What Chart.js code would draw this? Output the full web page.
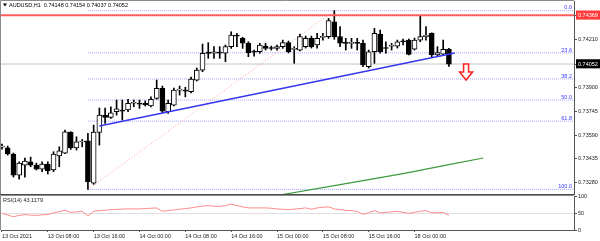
<!DOCTYPE html>
<html>
<head>
<meta charset="utf-8">
<script src="https://cdn.jsdelivr.net/npm/chart.js@4.4.1/dist/chart.umd.min.js"></script>
<style>
  html, body { margin: 0; padding: 0; background: #fff; }
  #wrap { position: relative; width: 600px; height: 241px; overflow: hidden; }
  #priceCanvas { position: absolute; left: 0; top: 0; }
  #rsiCanvas { position: absolute; left: 0; top: 193px; }
</style>
</head>
<body>
<div id="wrap">
  <canvas id="priceCanvas" width="600" height="196"></canvas>
  <canvas id="rsiCanvas" width="600" height="48"></canvas>
</div>
<script>
// Texts
const symbolTitle = 'AUDUSD,H1  0.74148 0.74154 0.74037 0.74052';
const rsiTitle = 'RSI(14) 43.1179';

// Time axis (one candle per hour, label every 8 candles)
const timeLabels = ['13 Oct 2021', '13 Oct 08:00', '13 Oct 16:00', '14 Oct 00:00', '14 Oct 08:00',
    '14 Oct 16:00', '15 Oct 00:00', '15 Oct 08:00', '15 Oct 16:00', '18 Oct 00:00'];
const timeTickIndex = [0, 8, 16, 24, 32, 40, 48, 56, 64, 72];

// Candles H1
const opens = [0.73512, 0.73508, 0.73467, 0.73330, 0.73395, 0.73417, 0.73395, 0.73369, 0.73402, 0.73363,
    0.73454, 0.73473, 0.73610, 0.73506, 0.73545, 0.73553, 0.73278, 0.73608, 0.73720, 0.73705,
    0.73742, 0.73753, 0.73753, 0.73797, 0.73793, 0.73797, 0.73779, 0.73829, 0.73894, 0.73742,
    0.73785, 0.73882, 0.73883, 0.73872, 0.73948, 0.74013, 0.74130, 0.74122, 0.74130, 0.74122,
    0.74165, 0.74241, 0.74219, 0.74187, 0.74133, 0.74132, 0.74169, 0.74156, 0.74154, 0.74165,
    0.74191, 0.74147, 0.74143, 0.74165, 0.74219, 0.74176, 0.74225, 0.74230, 0.74327, 0.74230,
    0.74188, 0.74186, 0.74188, 0.74187, 0.74035, 0.74132, 0.74247, 0.74156, 0.74168, 0.74169,
    0.74199, 0.74208, 0.74148, 0.74208, 0.74230, 0.74252, 0.74111, 0.74117, 0.74148];
const highs = [0.73532, 0.73519, 0.73473, 0.73417, 0.73441, 0.73447, 0.73408, 0.73417, 0.73417, 0.73482,
    0.73514, 0.73623, 0.73612, 0.73579, 0.73562, 0.73601, 0.73655, 0.73766, 0.73766, 0.73774,
    0.73818, 0.73818, 0.73823, 0.73818, 0.73818, 0.73812, 0.73839, 0.73948, 0.73909, 0.73818,
    0.73896, 0.73909, 0.73901, 0.73968, 0.74026, 0.74182, 0.74191, 0.74165, 0.74165, 0.74176,
    0.74262, 0.74252, 0.74226, 0.74197, 0.74143, 0.74187, 0.74187, 0.74169, 0.74176, 0.74208,
    0.74202, 0.74165, 0.74247, 0.74234, 0.74234, 0.74252, 0.74252, 0.74349, 0.74399, 0.74295,
    0.74219, 0.74219, 0.74219, 0.74208, 0.74143, 0.74284, 0.74273, 0.74197, 0.74187, 0.74208,
    0.74215, 0.74215, 0.74221, 0.74368, 0.74295, 0.74255, 0.74165, 0.74208, 0.74154];
const lows = [0.73499, 0.73460, 0.73317, 0.73304, 0.73317, 0.73384, 0.73363, 0.73352, 0.73337, 0.73352,
    0.73384, 0.73470, 0.73497, 0.73493, 0.73514, 0.73237, 0.73270, 0.73525, 0.73666, 0.73699,
    0.73720, 0.73688, 0.73742, 0.73774, 0.73764, 0.73779, 0.73774, 0.73823, 0.73733, 0.73731,
    0.73779, 0.73850, 0.73839, 0.73864, 0.73942, 0.74002, 0.74089, 0.74089, 0.74089, 0.74067,
    0.74154, 0.74165, 0.74154, 0.74100, 0.74104, 0.74122, 0.74143, 0.74143, 0.74143, 0.74154,
    0.74124, 0.74057, 0.74137, 0.74156, 0.74156, 0.74156, 0.74208, 0.74219, 0.74213, 0.74165,
    0.74143, 0.74154, 0.74143, 0.74035, 0.74026, 0.74057, 0.74122, 0.74122, 0.74143, 0.74156,
    0.74176, 0.74111, 0.74143, 0.74197, 0.74208, 0.74100, 0.74100, 0.74111, 0.74037];
const closes = [0.73516, 0.73467, 0.73330, 0.73408, 0.73421, 0.73395, 0.73369, 0.73402, 0.73358, 0.73467,
    0.73488, 0.73612, 0.73506, 0.73547, 0.73548, 0.73287, 0.73610, 0.73720, 0.73705, 0.73735,
    0.73761, 0.73746, 0.73797, 0.73799, 0.73791, 0.73787, 0.73823, 0.73894, 0.73746, 0.73797,
    0.73883, 0.73885, 0.73875, 0.73955, 0.74013, 0.74122, 0.74121, 0.74132, 0.74122, 0.74165,
    0.74241, 0.74234, 0.74187, 0.74126, 0.74130, 0.74176, 0.74154, 0.74153, 0.74165, 0.74191,
    0.74132, 0.74149, 0.74230, 0.74219, 0.74165, 0.74219, 0.74227, 0.74334, 0.74230, 0.74187,
    0.74186, 0.74188, 0.74186, 0.74046, 0.74132, 0.74252, 0.74132, 0.74153, 0.74171, 0.74197,
    0.74196, 0.74115, 0.74208, 0.74230, 0.74241, 0.74111, 0.74126, 0.74148, 0.74052];

// RSI(14)
const rsi14 = [49, 44, 39, 43, 45.5, 43.5, 43, 44.5, 45.5, 50.6,
    54, 58, 52, 53.5, 55, 41, 55, 57, 58, 60,
    60.5, 61.5, 62, 62, 62, 63, 64, 65, 55, 57,
    59, 61, 63, 65, 68, 70, 72, 70, 69, 72,
    76, 72, 68, 65, 65, 65, 65, 64, 62, 61,
    60, 61.5, 63, 65, 61, 65, 67, 68, 62, 60,
    58, 57, 55, 46, 51, 57, 50, 52, 53.5, 55,
    52, 48.6, 52, 55, 57, 50.6, 50.6, 52, 43.1];
const rsiTicks = [0, 20, 50, 80, 100];
const rsiLevels = [20, 50, 80];

// Moving average (green)
const maIndex = [46, 50, 60, 70, 78, 84];
const maValues = [0.73184, 0.73210, 0.73275, 0.73340, 0.73398, 0.73441];

// Drawn objects
const trendIndex = [17, 79];
const trendValues = [0.73649, 0.74124];
const fibIndex = [15, 58];
const fibValues = [0.73237, 0.74399];   // low, high
const fibRatios = [0, 23.6, 38.2, 50, 61.8, 100];
const resistance = 0.74369;
const lastPrice = 0.74052;
const arrowIndex = 81;
const arrowValues = [0.74052, 0.73948]; // top, tip

// Price axis labels
const priceTicks = [0.73280, 0.73435, 0.73590, 0.73745, 0.73900, 0.74210];

const xMin = -0.17, xMax = 99.83;
const fontFamily = '"Liberation Sans", Arial, sans-serif';
const tickFont = { family: fontFamily, size: 5.5 };

const fibPrice = r => fibValues[1] - (fibValues[1] - fibValues[0]) * r / 100;
const seg = (x0, y0, x1, y1) => [{ x: x0, y: y0 }, { x: x1, y: y1 }];
const lineDs = (data, color, width, dash, order) => ({
    type: 'line', data, borderColor: color, borderWidth: width, borderDash: dash || [],
    pointRadius: 0, fill: false, tension: 0, order: order
});

const idx = opens.map((v, i) => i);
const isUp = i => closes[i] >= opens[i];

const datasets = [
    {
        label: 'bodies', data: idx.map(i => ({ x: i, y: [opens[i], closes[i]] })),
        backgroundColor: ctx => isUp(ctx.dataIndex) ? '#ffffff' : '#000000',
        borderColor: '#000000', borderWidth: 1, borderSkipped: false,
        barThickness: 5, minBarLength: 1, grouped: false, order: 1
    },
    {
        label: 'wicks', data: idx.map(i => ({ x: i, y: [lows[i], highs[i]] })),
        backgroundColor: '#000000', barThickness: 1, grouped: false, order: 2
    },
    lineDs(seg(xMin, resistance, xMax, resistance), '#ff5c5c', 2, null, 0),
    lineDs(seg(xMin, lastPrice, xMax, lastPrice), '#c4c4c4', 1, null, 3),
    lineDs(seg(fibIndex[0], fibValues[0], fibIndex[1], fibValues[1]), '#ff9a9a', 1, [1, 2], 3),
    lineDs(seg(trendIndex[0], trendValues[0], trendIndex[1], trendValues[1]), '#3636f2', 1.5, null, 0),
    lineDs(maIndex.map((v, i) => ({ x: v, y: maValues[i] })), '#3d9b3d', 1.2, null, 0)
];
fibRatios.forEach(r => {
    datasets.push(lineDs(seg(fibIndex[0], fibPrice(r), xMax, fibPrice(r)), '#a3a3ff', 1, [1, 1], 4));
});

// Overlay: frame, fib labels, arrow, title
const priceOverlay = {
    id: 'priceOverlay',
    afterDatasetsDraw(chart) {
        const { ctx, chartArea: a, scales: { x, y } } = chart;
        ctx.save();
        ctx.lineWidth = 1;
        ctx.strokeStyle = '#8c8c8c';
        ctx.beginPath();
        ctx.moveTo(a.left - 0.5, a.bottom);
        ctx.lineTo(a.left - 0.5, a.top - 0.5);
        ctx.lineTo(a.right, a.top - 0.5);
        ctx.stroke();
        ctx.strokeStyle = '#4a4a4a';
        ctx.beginPath();
        ctx.moveTo(a.left - 1, a.bottom + 0.5);
        ctx.lineTo(a.right, a.bottom + 0.5);
        ctx.stroke();

        ctx.font = '5.5px ' + fontFamily;
        ctx.fillStyle = '#3b3bff';
        ctx.textAlign = 'right';
        ctx.textBaseline = 'bottom';
        fibRatios.forEach(r => {
            ctx.fillText(r.toFixed(1), a.right - 2, y.getPixelForValue(fibPrice(r)));
        });

        // down arrow
        const ax = x.getPixelForValue(arrowIndex);
        const yTop = y.getPixelForValue(arrowValues[0]);
        const yTip = y.getPixelForValue(arrowValues[1]);
        const headY = yTip - 8;
        ctx.beginPath();
        ctx.moveTo(ax - 2.5, yTop);
        ctx.lineTo(ax + 2.5, yTop);
        ctx.lineTo(ax + 2.5, headY);
        ctx.lineTo(ax + 6.5, headY);
        ctx.lineTo(ax, yTip);
        ctx.lineTo(ax - 6.5, headY);
        ctx.lineTo(ax - 2.5, headY);
        ctx.closePath();
        ctx.fillStyle = '#ffffff';
        ctx.fill();
        ctx.strokeStyle = '#ff2020';
        ctx.lineWidth = 1.5;
        ctx.stroke();

        // title
        ctx.fillStyle = '#000';
        ctx.beginPath();
        ctx.moveTo(3, 3.5);
        ctx.lineTo(7, 3.5);
        ctx.lineTo(5, 6.5);
        ctx.closePath();
        ctx.fill();
        ctx.textAlign = 'left';
        ctx.textBaseline = 'middle';
        ctx.fillText(symbolTitle, 9, 5.5);
        ctx.restore();
    }
};

new Chart(document.getElementById('priceCanvas'), {
    type: 'bar',
    data: { datasets },
    options: {
        responsive: false,
        animation: false,
        events: [],
        layout: { padding: { left: 1, top: 1, right: 0, bottom: 2 } },
        plugins: { legend: { display: false }, tooltip: { enabled: false } },
        scales: {
            x: { type: 'linear', min: xMin, max: xMax, offset: false, display: false },
            y: {
                position: 'right', min: 0.73207, max: 0.74462,
                afterBuildTicks: s => {
                    s.ticks = priceTicks.concat([lastPrice, resistance]).map(v => ({ value: v }));
                },
                afterFit: s => { s.width = 26; s.paddingTop = 0; s.paddingBottom = 0; },
                ticks: {
                    font: tickFont, padding: 1,
                    callback: v => v.toFixed(5),
                    color: ctx => (ctx.tick.value === resistance || ctx.tick.value === lastPrice) ? '#ffffff' : '#222222',
                    showLabelBackdrop: ctx => ctx.tick.value === resistance || ctx.tick.value === lastPrice,
                    backdropColor: ctx => ctx.tick.value === resistance ? '#ff3a3a' : '#000000',
                    backdropPadding: { top: 1.5, bottom: 1, left: 2, right: 6 }
                },
                grid: { drawOnChartArea: false, tickLength: 3, color: '#555' },
                border: { color: '#555' }
            }
        }
    },
    plugins: [priceOverlay]
});

// RSI panel
const rsiOverlay = {
    id: 'rsiOverlay',
    afterDatasetsDraw(chart) {
        const { ctx, chartArea: a } = chart;
        ctx.save();
        ctx.strokeStyle = '#8c8c8c';
        ctx.lineWidth = 1;
        ctx.beginPath();
        ctx.moveTo(a.left - 0.5, a.bottom);
        ctx.lineTo(a.left - 0.5, a.top - 0.5);
        ctx.lineTo(a.right, a.top - 0.5);
        ctx.stroke();
        ctx.font = '5.5px ' + fontFamily;
        ctx.fillStyle = '#222';
        ctx.textAlign = 'left';
        ctx.textBaseline = 'middle';
        ctx.fillText(rsiTitle, 3, a.top + 4);
        ctx.restore();
    }
};

new Chart(document.getElementById('rsiCanvas'), {
    type: 'line',
    data: {
        datasets: [{
            data: rsi14.map((v, i) => ({ x: i, y: v })),
            borderColor: '#ff8a8a', borderWidth: 1, pointRadius: 0, tension: 0, fill: false
        }]
    },
    options: {
        responsive: false,
        animation: false,
        events: [],
        layout: { padding: { left: 1, top: 3, right: 0, bottom: 0 } },
        plugins: { legend: { display: false }, tooltip: { enabled: false } },
        scales: {
            x: {
                type: 'linear', min: xMin, max: xMax, offset: false,
                afterBuildTicks: s => { s.ticks = timeTickIndex.map(v => ({ value: v })); },
                afterFit: s => { s.height = 11; s.paddingLeft = 0; s.paddingRight = 0; },
                ticks: {
                    font: tickFont, color: '#222', padding: 1, align: 'start',
                    maxRotation: 0, autoSkip: false,
                    callback: (v, i) => timeLabels[i]
                },
                grid: { drawOnChartArea: false, tickLength: 2, color: '#555' },
                border: { color: '#555' }
            },
            y: {
                position: 'right', min: 0, max: 100,
                afterBuildTicks: s => { s.ticks = rsiTicks.map(v => ({ value: v })); },
                afterFit: s => { s.width = 26; s.paddingTop = 0; s.paddingBottom = 0; },
                ticks: { font: tickFont, color: '#222', padding: 1 },
                grid: {
                    tickLength: 3, tickColor: '#555',
                    color: ctx => rsiLevels.includes(ctx.tick && ctx.tick.value) ? '#e0e0e0' : 'rgba(0,0,0,0)'
                },
                border: { color: '#555' }
            }
        }
    },
    plugins: [rsiOverlay]
});
</script>
</body>
</html>
